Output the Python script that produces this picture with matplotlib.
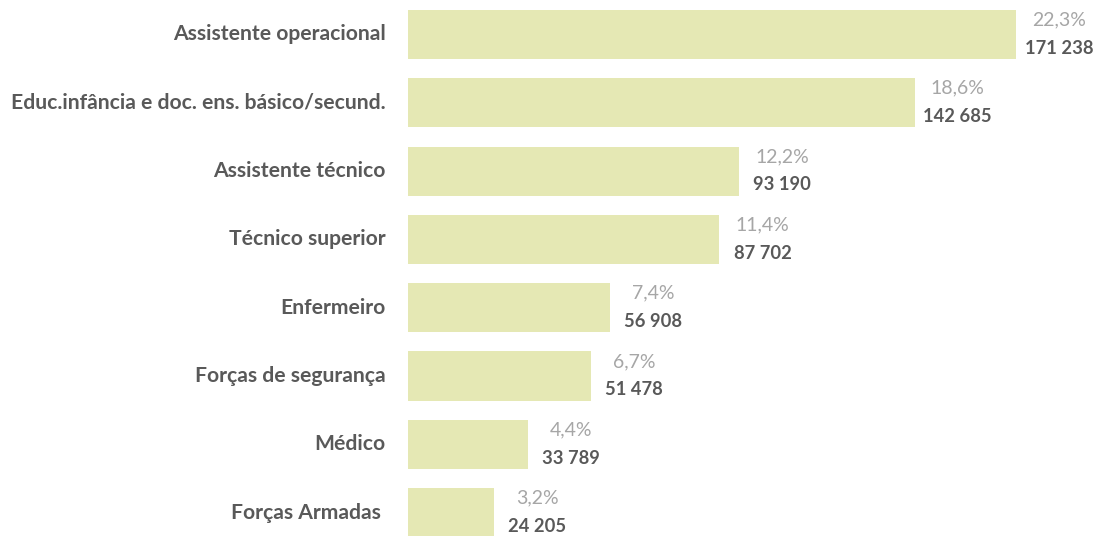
import matplotlib
matplotlib.use("Agg")
import matplotlib.pyplot as plt

categories = ["Assistente operacional", "Educ.infância e doc. ens. básico/secund.",
              "Assistente técnico", "Técnico superior", "Enfermeiro",
              "Forças de segurança", "Médico", "Forças Armadas "]
values = [171238, 142685, 93190, 87702, 56908, 51478, 33789, 24205]
percent_labels = ["22,3%", "18,6%", "12,2%", "11,4%", "7,4%", "6,7%", "4,4%", "3,2%"]

def fmt(v):
    return f"{v:,}".replace(",", " ")

plt.rcParams['font.family'] = ['Lato', 'DejaVu Sans']

W, H = 1097, 536
fig = plt.figure(figsize=(W / 100, H / 100), dpi=100)
left_px = 408
ax = fig.add_axes([left_px / W, 0, (W - left_px) / W, 1])
ax.set_xlim(0, values[0] * (W - left_px) / 608)
pitch = 68.3
c0 = 34.5
ax.set_ylim((H - c0) / pitch, -c0 / pitch)

y = list(range(len(categories)))
ax.barh(y, values, height=0.72, color="#e5e8b4")
ax.axis("off")

for i, (v, p, c) in enumerate(zip(values, percent_labels, categories)):
    ax.annotate(p, (v, i), xytext=(31, 10.5), textcoords="offset points",
                ha="center", va="center", fontsize=14, color="#a6a6a6")
    ax.annotate(fmt(v), (v, i), xytext=(31, -10), textcoords="offset points",
                ha="center", va="center", fontsize=13.2, color="#595959", fontweight="bold")
    ax.annotate(c, (0, i), xytext=(-16, 0), textcoords="offset points",
                ha="right", va="center", fontsize=15.2, color="#595959", fontweight="bold",
                annotation_clip=False)

fig.savefig("out.png", dpi=100)
